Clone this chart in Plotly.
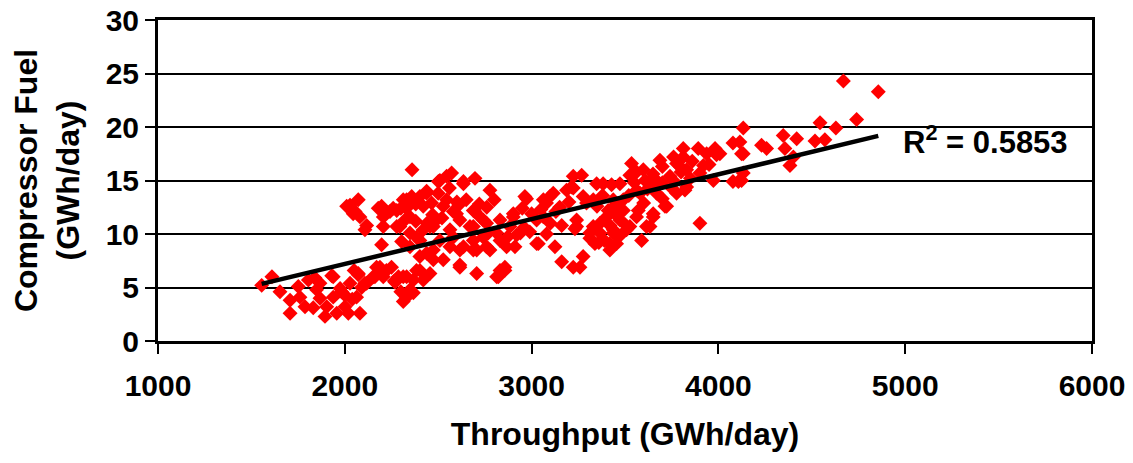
import plotly.graph_objects as go

# Throughput (GWh/day) and compressor fuel (GWh/day)
throughput = [
    1555, 1610, 1653, 1707, 1707, 1751, 1760, 1787, 1805, 1840, 1849, 1831, 1867, 1894, 1903,
    1930, 1938, 1957, 1983, 2001, 2028, 2019, 2072, 2081, 2063, 2107, 2170, 2161, 2206, 2223,
    2197, 1867, 1938, 2152, 2117, 2188, 2206, 2072, 1975, 2000, 2040, 2050, 2090, 2250, 2265,
    2300, 2269,
    2010, 2045, 2072, 2081, 2117, 2108, 2179, 2206, 2206, 2242, 2278, 2278, 2313, 2322, 2360,
    2358, 2349, 2304, 2287, 2313, 2349, 2331,
    2572, 2545, 2697, 2635, 2501, 2777, 2964, 3098, 3080, 3187, 3223, 2902, 2697, 2741, 2831,
    2884, 3027, 3063, 3161, 3036, 3125, 3161, 3223, 2911, 2857, 2822, 2706, 2616, 2706, 2777,
    2831, 2768, 2688, 2635, 2563, 2527, 2456, 2420, 2367, 2527, 2598, 2491, 2420, 2456, 2563,
    2670, 2402, 2474, 2402, 2384, 2438,
    2028, 2055, 2197, 2259, 2295, 2331, 2349, 2402, 2438, 2509, 2635, 2465, 2545, 2581, 2616,
    2384, 2349, 2420, 2474, 2509, 2438, 2474, 2402, 2367, 2313, 2331, 2581, 2616, 2616, 2688,
    2759, 2831, 2813, 2866, 2973, 3027, 2688, 2724, 2759, 2688, 2813, 2741,
    2902, 2857, 3259, 3276, 3214, 3268, 3063, 3116, 3241, 3294, 3330, 3312, 3366, 3348, 3419,
    3437, 3401, 3437, 3491, 3508, 3473, 3535, 3526, 3580, 3562, 3589, 3615, 3598, 3687, 3669,
    3669, 3723, 3651, 3758, 3794, 3812, 3776, 3830, 3901, 3973, 3901, 3990, 4124, 4133,
    3223, 3276, 3241, 3232, 3330, 3383, 3428, 3312, 3339, 3366, 3410, 3419, 3455, 3437, 3473,
    3491, 3562, 3607, 3562, 3571, 3526, 3634, 3651, 3669, 3714, 3741, 3776, 3812, 3821, 3830,
    3892, 3937, 3982, 4008, 4078, 4078,
    4669, 4856, 4740, 4544, 4629, 4517, 4570, 4347, 4419, 4356, 4401, 4383, 4231, 4258, 4133,
    4115, 4124, 4133, 4107,
    2380, 2300, 2500, 2470, 2560, 2520, 2440, 2600, 2380, 2330,
    2950, 3000, 3050, 3100, 3150, 2990, 3080, 2940, 3130, 3200,
    3350, 3450, 3520, 3600, 3620, 3700, 3650, 3550, 3450, 3380, 3700, 3750, 3850, 3800, 3860,
    3920, 3950, 3760, 3700, 3640,
    3390, 3470, 3500, 3420, 3360,
    2650, 2720, 2760, 2610, 2800, 2870, 2920, 2960,
]
fuel = [
    5.2, 6.0, 4.6, 3.8, 2.6, 5.1, 4.1, 3.2, 5.7, 5.9, 4.8, 3.1, 4.0, 2.3, 3.2,
    6.1, 4.1, 2.6, 4.6, 3.2, 5.4, 2.6, 6.2, 2.6, 4.1, 5.4, 6.9, 6.0, 6.0, 6.6,
    9.0, 5.4, 6.0, 6.0, 5.4, 6.9, 6.3, 6.3, 4.9, 4.3, 3.9, 6.6, 5.0, 6.9, 5.6,
    4.6, 5.5,
    12.6, 11.9, 13.2, 11.6, 10.8, 10.4, 12.4, 11.6, 10.7, 12.1, 12.2, 10.7, 13.2, 11.3, 16.0,
    13.5, 10.1, 9.3, 6.0, 3.7, 4.8, 6.0,
    15.7, 15.4, 15.2, 14.7, 14.9, 14.1, 13.5, 13.5, 12.9, 14.1, 15.4, 11.6, 12.1, 11.3, 11.3,
    10.7, 11.3, 11.6, 10.8, 9.1, 8.8, 7.4, 6.9, 8.8, 6.6, 6.0, 6.3, 7.1, 8.5, 8.5,
    9.4, 10.1, 9.4, 8.8, 8.8, 7.6, 6.3, 5.7, 4.5, 12.6, 11.9, 11.3, 12.6, 10.7, 10.4,
    10.7, 9.4, 8.5, 7.9, 6.6, 13.8,
    12.7, 12.1, 12.6, 12.4, 10.7, 13.2, 11.6, 13.5, 14.0, 15.0, 14.9, 12.9, 13.2, 12.1, 11.3,
    9.7, 8.8, 10.4, 10.7, 9.4, 8.2, 7.6, 6.6, 5.7, 6.0, 4.1, 9.7, 8.5, 6.9, 8.5,
    8.8, 6.6, 6.0, 8.8, 13.3, 9.1, 12.2, 11.6, 11.0, 10.7, 10.1, 9.7,
    11.9, 6.9, 6.9, 7.9, 14.4, 15.5, 13.2, 13.8, 10.7, 12.9, 10.7, 9.6, 10.1, 14.7, 9.1,
    10.4, 11.6, 13.2, 12.2, 10.4, 14.7, 16.6, 15.5, 13.8, 11.6, 9.4, 10.7, 16.0, 16.9, 15.0,
    14.4, 12.6, 11.9, 15.0, 16.3, 17.2, 13.8, 14.4, 15.7, 15.0, 11.0, 17.4, 15.0, 17.5,
    14.3, 13.5, 11.3, 10.5, 13.2, 14.7, 14.6, 10.1, 9.1, 11.0, 12.2, 8.5, 9.1, 10.1, 11.3,
    13.2, 15.8, 15.0, 14.1, 12.2, 10.7, 10.7, 11.6, 13.8, 12.6, 15.4, 16.6, 18.0, 14.1, 16.0,
    18.0, 17.5, 18.0, 17.5, 18.5, 14.9,
    24.3, 23.3, 20.7, 20.4, 19.9, 18.7, 18.8, 19.2, 18.9, 18.0, 17.2, 16.4, 18.3, 18.0, 19.9,
    18.6, 17.5, 15.7, 14.9,
    12.8, 12.4, 13.8, 11.8, 14.3, 11.5, 11.0, 13.0, 11.2, 12.4,
    12.4, 11.9, 12.3, 11.0, 12.5, 10.2, 10.0, 10.1, 12.1, 13.0,
    12.6, 12.7, 13.6, 12.9, 14.2, 14.8, 15.6, 14.8, 11.8, 13.6, 13.3, 14.3, 15.2, 15.8, 16.8,
    16.4, 16.5, 17.2, 16.3, 15.1,
    9.4, 9.8, 10.9, 10.8, 9.2,
    13.2, 12.8, 12.5, 12.7, 13.2, 9.7, 9.9, 10.6,
]

# Linear trendline shown in the reference (fuel = slope * throughput + intercept)
trend_slope = 0.00419
trend_intercept = -1.18
r2_label = "R<sup>2</sup> = 0.5853"

x_ticks = [1000, 2000, 3000, 4000, 5000, 6000]
y_ticks = [0, 5, 10, 15, 20, 25, 30]

trend_x = [min(throughput), max(throughput)]
trend_y = [trend_slope * v + trend_intercept for v in trend_x]

FONT = "Liberation Sans, Arial, sans-serif"

fig = go.Figure()
fig.add_trace(go.Scatter(
    x=throughput, y=fuel, mode="markers",
    marker=dict(symbol="diamond", size=11.5, color="#ff0000", line=dict(width=0)),
    cliponaxis=False,
))
fig.add_trace(go.Scatter(
    x=trend_x, y=trend_y, mode="lines",
    line=dict(color="black", width=4.5),
))

fig.add_annotation(
    x=4975, y=18.8, xref="x", yref="y",
    text="<b>" + r2_label + "</b>", showarrow=False,
    xanchor="left", yanchor="middle",
    font=dict(family=FONT, size=31, color="black"),
)

fig.update_layout(
    width=1125, height=455,
    margin=dict(l=150, r=41, t=12, b=122, autoexpand=False),
    paper_bgcolor="white", plot_bgcolor="white",
    showlegend=False,
    font=dict(family=FONT, color="black"),
    xaxis=dict(
        range=[1000, 6000], tickvals=x_ticks, automargin=False,
        showgrid=False, zeroline=False,
        showline=True, linecolor="black", linewidth=3, mirror=True,
        ticks="outside", ticklen=10, tickwidth=2, tickcolor="black",
        ticklabelstandoff=6, ticklabeloverflow="allow",
        tickfont=dict(family=FONT, size=30, color="black", weight="bold"),
        title=dict(text="<b>Throughput (GWh/day)</b>",
                   font=dict(family=FONT, size=32, color="black"), standoff=22),
    ),
    yaxis=dict(
        range=[0, 30], tickvals=y_ticks, automargin=False,
        showgrid=True, gridcolor="black", gridwidth=2, zeroline=False,
        showline=True, linecolor="black", linewidth=3, mirror=True,
        ticks="outside", ticklen=10, tickwidth=2, tickcolor="black",
        ticklabeloverflow="allow",
        tickfont=dict(family=FONT, size=30, color="black", weight="bold"),
        title=dict(text="<b>Compressor Fuel<br>(GWh/day)</b>",
                   font=dict(family=FONT, size=32, color="black"), standoff=18),
    ),
)

fig.write_html("out.html")
